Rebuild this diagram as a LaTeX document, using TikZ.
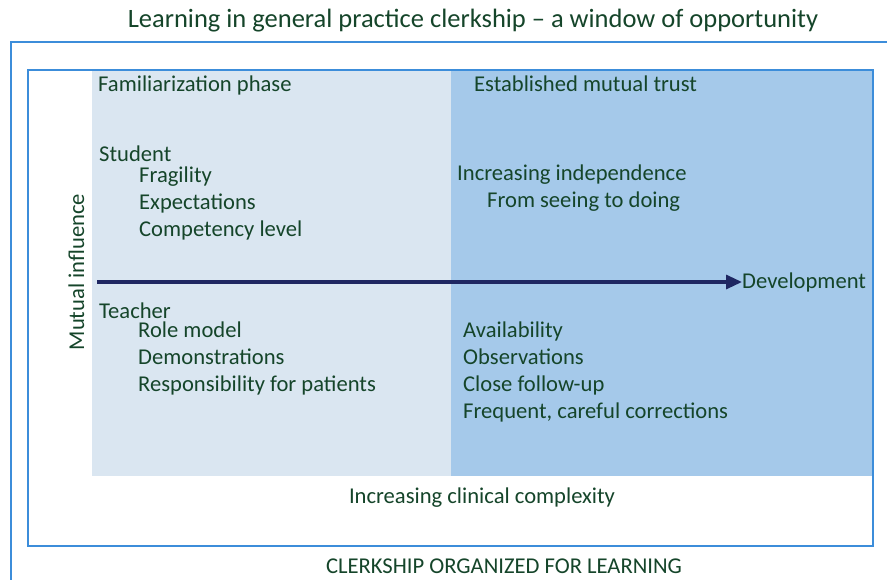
\documentclass[tikz,border=0pt]{standalone}
\usepackage{fontspec}
\setmainfont{Carlito}
\usetikzlibrary{arrows.meta}
\definecolor{txtgreen}{HTML}{15452A}
\definecolor{frameblue}{HTML}{3C8DDA}
\definecolor{lightfill}{HTML}{DAE6F1}
\definecolor{darkfill}{HTML}{A5C9EA}
\definecolor{arrownavy}{HTML}{1F2762}
\tikzset{
  lbl/.style={anchor=base west, inner sep=0pt, text=txtgreen, font=\fontsize{22.6}{24}\selectfont},
  clbl/.style={anchor=base, inner sep=0pt, text=txtgreen, font=\fontsize{22.6}{24}\selectfont},
  frame/.style={draw=frameblue, line width=1.2pt}
}
\begin{document}
\begin{tikzpicture}[x=1pt,y=-1pt]
\useasboundingbox (0,0) rectangle (887,579);
\fill[white] (0,0) rectangle (887,579);
\begin{scope}
\clip (0,0) rectangle (887,579);
\draw[frame] (11,42) rectangle (910,600);
\end{scope}
\fill[lightfill] (92,70) rectangle (451,476);
\fill[darkfill] (451,70) rectangle (873,476);
\draw[frame] (28,70) rectangle (873,546);
% title
\node[clbl, font=\fontsize{26.5}{28}\selectfont] (title) at (473,27) {Learning in general practice clerkship – a window of opportunity};
% left column
\node[lbl] (fam) at (98,91) {Familiarization phase};
\node[lbl] (stu) at (99,161) {Student};
\node[lbl] (fra) at (139,182) {Fragility};
\node[lbl] (exp) at (139,209) {Expectations};
\node[lbl] (com) at (139,236) {Competency level};
\node[lbl] (tea) at (99,318) {Teacher};
\node[lbl] (rol) at (138,337) {Role model};
\node[lbl] (dem) at (138,364) {Demonstrations};
\node[lbl] (res) at (138,391) {Responsibility for patients};
% right column
\node[lbl] (est) at (474,91) {Established mutual trust};
\node[lbl] (inc) at (457,180) {Increasing independence};
\node[lbl] (see) at (487,207) {From seeing to doing};
\node[lbl] (ava) at (463,337) {Availability};
\node[lbl] (obs) at (463,364) {Observations};
\node[lbl] (clo) at (463,391) {Close follow-up};
\node[lbl] (fre) at (463,418) {Frequent, careful corrections};
% arrow
\coordinate (astart) at (97,282);
\node[anchor=west, inner sep=0pt, text=txtgreen, font=\fontsize{22.6}{24}\selectfont] (dev) at (742,282) {Development};
\draw[arrownavy, line width=3.2pt, -{Triangle[length=16pt,width=14pt]}] (astart) -- (dev.west);
% axis labels
\node[clbl, rotate=90] (mut) at (84,272) {Mutual influence};
\node[clbl] (cpx) at (482,503) {Increasing clinical complexity};
\node[clbl] (clk) at (504,573) {CLERKSHIP ORGANIZED FOR LEARNING};
\end{tikzpicture}
\end{document}
